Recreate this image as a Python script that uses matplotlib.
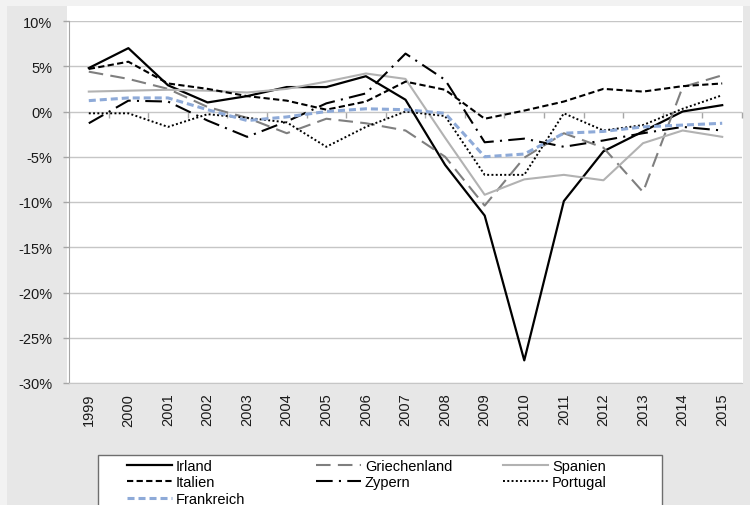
import numpy as np
import matplotlib.pyplot as plt
from matplotlib.patches import Rectangle
from matplotlib.ticker import FuncFormatter, NullFormatter

plt.rcParams['font.family'] = ['Liberation Sans', 'DejaVu Sans']

years = ['1999', '2000', '2001', '2002', '2003', '2004', '2005', '2006', '2007',
         '2008', '2009', '2010', '2011', '2012', '2013', '2014', '2015']

irland = [4.8, 7.0, 2.9, 1.0, 1.7, 2.7, 2.7, 3.9, 1.3, -5.9, -11.5, -27.5, -9.9, -4.4, -2.2, 0.0, 0.7]
griechenland = [4.4, 3.6, 2.5, 0.5, -0.7, -2.4, -0.8, -1.3, -2.1, -5.0, -10.4, -5.1, -2.4, -4.0, -8.9, 2.7, 4.0]
spanien = [2.2, 2.3, 2.4, 2.3, 2.1, 2.5, 3.3, 4.2, 3.6, -2.9, -9.2, -7.5, -7.0, -7.6, -3.5, -2.1, -2.8]
italien = [4.7, 5.5, 3.1, 2.5, 1.7, 1.2, 0.2, 1.1, 3.3, 2.4, -0.8, 0.1, 1.1, 2.5, 2.2, 2.8, 3.1]
zypern = [-1.3, 1.2, 1.1, -1.0, -2.8, -1.1, 0.9, 2.0, 6.4, 3.5, -3.4, -3.0, -3.9, -3.2, -2.4, -1.7, -2.1]
portugal = [-0.2, -0.2, -1.7, -0.3, -0.7, -1.2, -3.9, -1.7, 0.0, -0.5, -7.0, -7.0, -0.2, -2.1, -1.5, 0.3, 1.8]
frankreich = [1.2, 1.5, 1.5, 0.2, -1.0, -0.6, 0.0, 0.3, 0.2, -0.2, -5.0, -4.7, -2.4, -2.2, -1.7, -1.5, -1.3]

W, H = 750, 506
fig = plt.figure(figsize=(W / 100, H / 100), dpi=100, facecolor='#e7e7e7')


def fx(px):
    return px / W


def fy(py):
    return 1 - py / H


# lighter outer edge and white plot area
fig.patches.append(Rectangle((0, fy(7)), 1, 1 - fy(7), transform=fig.transFigure,
                             facecolor='#f2f2f2', edgecolor='none', zorder=-3))
fig.patches.append(Rectangle((0, 0), fx(7), 1, transform=fig.transFigure,
                             facecolor='#f2f2f2', edgecolor='none', zorder=-3))
fig.patches.append(Rectangle((fx(67), fy(384)), fx(743) - fx(67), fy(7) - fy(384),
                             transform=fig.transFigure, facecolor='white',
                             edgecolor='none', zorder=-2))

ax = fig.add_axes([fx(69), fy(384), fx(742) - fx(69), fy(22) - fy(384)])
ax.set_facecolor('white')

x = np.arange(len(years))
lw = 1.5
lines = {}
lines['Irland'] = ax.plot(x, irland, color='black', lw=1.6, solid_joinstyle='round')[0]
lines['Griechenland'] = ax.plot(x, griechenland, color='#7f7f7f', lw=lw,
                                linestyle=(0, (7, 3.5)))[0]
lines['Spanien'] = ax.plot(x, spanien, color='#b2b2b2', lw=lw, solid_joinstyle='round')[0]
lines['Italien'] = ax.plot(x, italien, color='black', lw=lw, linestyle=(0, (3, 1.6)))[0]
lines['Zypern'] = ax.plot(x, zypern, color='black', lw=lw,
                          linestyle=(0, (8, 3, 1, 3)))[0]
lines['Portugal'] = ax.plot(x, portugal, color='black', lw=1.4,
                            linestyle=(0, (1, 1.2)))[0]
lines['Frankreich'] = ax.plot(x, frankreich, color='#8eaad8', lw=2.2,
                              linestyle=(0, (2.3, 1.3)))[0]

ax.set_xlim(-0.5, len(years) - 0.5)
ax.set_ylim(-30, 10)
ax.set_yticks(np.arange(-30, 11, 5))
ax.yaxis.set_major_formatter(FuncFormatter(lambda v, p: f'{v:.0f}%'))
ax.grid(axis='y', color='#c6c6c6', lw=1)
ax.set_axisbelow(True)

ax.set_xticks(x)
ax.set_xticklabels(years, rotation=90)
ax.tick_params(axis='x', length=0, pad=7, labelsize=10.5, labelcolor='#1a1a1a')
ax.tick_params(axis='y', length=4, width=1, color='#a6a6a6', pad=8,
               labelsize=10.5, labelcolor='#1a1a1a')

for side in ['top', 'right']:
    ax.spines[side].set_visible(False)
ax.spines['left'].set_color('#a6a6a6')
ax.spines['bottom'].set_color('#c6c6c6')

# category axis crossing at 0 % with tick marks between categories
sec = ax.secondary_xaxis(0.75)
sec.xaxis.set_ticks_position('bottom')
sec.set_xticks(np.arange(len(years) + 1) - 0.5)
sec.xaxis.set_major_formatter(NullFormatter())
sec.tick_params(axis='x', length=4, width=1, color='#a6a6a6', direction='out',
                labelbottom=False, labeltop=False)
sec.spines['bottom'].set_color('#b8b8b8')
sec.spines['top'].set_visible(False)

# legend box
fig.patches.append(Rectangle((fx(98), fy(540)), fx(662) - fx(98), fy(456) - fy(540),
                             transform=fig.transFigure, facecolor='white',
                             edgecolor='#6e6e6e', lw=1, zorder=5))

columns = [(['Irland', 'Italien', 'Frankreich'], 127),
           (['Griechenland', 'Zypern'], 316),
           (['Spanien', 'Portugal'], 503)]
for names, px in columns:
    leg = fig.legend([lines[n] for n in names], names, loc='upper left',
                     bbox_to_anchor=(fx(px), fy(460)), frameon=False,
                     borderpad=0, borderaxespad=0, handlelength=3.1,
                     handletextpad=0.25, labelspacing=0.16, fontsize=10.5)
    leg.set_zorder(6)

fig.savefig('out.png', dpi=100, facecolor=fig.get_facecolor())
